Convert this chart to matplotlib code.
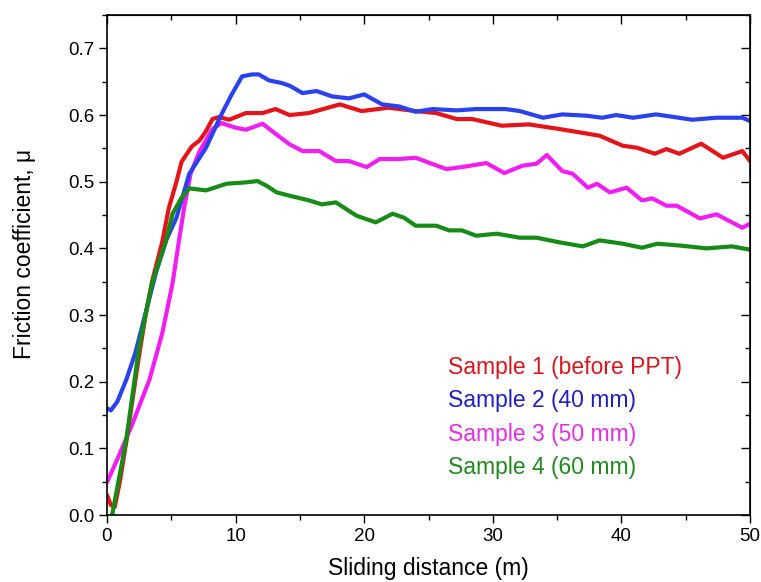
import matplotlib
matplotlib.use('Agg')
import matplotlib.pyplot as plt
from matplotlib.ticker import MultipleLocator

plt.rcParams['font.family'] = ['Liberation Sans', 'DejaVu Sans']

# Sample 1 (before PPT)
x1 = [0, 0.3, 0.6, 1.0, 1.5, 2.0, 2.5, 3.0, 3.5, 4.3, 4.8, 5.4, 5.8, 6.6, 7.2, 7.7, 8.2, 8.7,
      9.5, 10.8, 12.1, 13.1, 14.2, 15.7, 18.1, 19.8, 21.9, 24.0, 25.6, 27.2, 28.4, 30.7, 32.8,
      35.2, 38.3, 40.1, 41.2, 42.6, 43.5, 44.5, 46.2, 47.9, 49.4, 50]
y1 = [0.030, 0.015, 0.012, 0.050, 0.110, 0.175, 0.240, 0.300, 0.350, 0.410, 0.460, 0.500,
      0.530, 0.553, 0.562, 0.576, 0.594, 0.597, 0.593, 0.603, 0.603, 0.609, 0.600, 0.603,
      0.616, 0.606, 0.611, 0.606, 0.603, 0.594, 0.594, 0.584, 0.586, 0.579, 0.569, 0.554,
      0.551, 0.542, 0.549, 0.542, 0.557, 0.536, 0.546, 0.531]

# Sample 2 (40 mm)
x2 = [0, 0.3, 0.8, 1.5, 2.2, 3.0, 3.8, 4.6, 5.4, 6.4, 7.7, 8.9, 9.7, 10.5, 11.3, 11.8, 12.6,
      13.6, 14.2, 15.2, 16.3, 17.5, 18.8, 20.0, 21.4, 22.7, 24.0, 25.3, 27.2, 28.7, 31.0, 32.1,
      33.9, 35.4, 37.3, 38.5, 39.6, 40.9, 42.7, 45.5, 47.4, 49.4, 50]
y2 = [0.160, 0.157, 0.170, 0.203, 0.243, 0.303, 0.363, 0.412, 0.446, 0.512, 0.551, 0.601,
      0.631, 0.658, 0.661, 0.661, 0.652, 0.648, 0.644, 0.633, 0.636, 0.628, 0.625, 0.631,
      0.616, 0.613, 0.605, 0.609, 0.607, 0.609, 0.609, 0.606, 0.596, 0.601, 0.599, 0.596,
      0.600, 0.596, 0.601, 0.593, 0.596, 0.596, 0.591]

# Sample 3 (50 mm)
x3 = [0, 0.9, 1.9, 3.3, 4.3, 5.1, 5.6, 6.0, 6.5, 7.2, 8.2, 8.9, 10.0, 10.8, 12.1, 13.1, 14.2,
      15.2, 16.5, 17.8, 18.8, 20.2, 21.2, 22.7, 24.0, 25.1, 26.4, 27.6, 29.5, 30.9, 32.3, 33.4,
      34.2, 35.4, 36.2, 37.4, 38.1, 39.1, 40.4, 41.6, 42.4, 43.5, 44.3, 46.1, 47.4, 49.4, 50]
y3 = [0.049, 0.088, 0.133, 0.203, 0.273, 0.348, 0.412, 0.461, 0.512, 0.546, 0.579, 0.588,
      0.581, 0.578, 0.587, 0.572, 0.556, 0.546, 0.546, 0.531, 0.531, 0.522, 0.534, 0.534,
      0.536, 0.528, 0.519, 0.522, 0.528, 0.513, 0.524, 0.527, 0.540, 0.516, 0.512, 0.491,
      0.497, 0.484, 0.491, 0.472, 0.475, 0.464, 0.464, 0.445, 0.451, 0.431, 0.437]

# Sample 4 (60 mm)
x4 = [0.35, 1.5, 2.5, 3.5, 4.6, 5.1, 5.8, 6.4, 7.7, 9.3, 10.8, 11.7, 12.4, 13.2, 14.2, 15.7,
      16.7, 17.8, 19.4, 20.9, 22.2, 23.1, 24.0, 25.6, 26.6, 27.6, 28.7, 30.3, 32.1, 33.4, 35.2,
      37.0, 38.3, 40.1, 41.6, 42.8, 44.7, 46.6, 48.6, 50]
y4 = [-0.005, 0.113, 0.252, 0.348, 0.412, 0.452, 0.476, 0.490, 0.487, 0.497, 0.499, 0.501,
      0.494, 0.484, 0.479, 0.472, 0.466, 0.469, 0.449, 0.439, 0.452, 0.446, 0.434, 0.434,
      0.427, 0.427, 0.419, 0.422, 0.416, 0.416, 0.409, 0.403, 0.412, 0.407, 0.401, 0.407,
      0.404, 0.400, 0.403, 0.398]

labels = ['Sample 1 (before PPT)', 'Sample 2 (40 mm)', 'Sample 3 (50 mm)', 'Sample 4 (60 mm)']
line_colors = ['#e5141b', '#2a42ee', '#f01ef0', '#168c16']
text_colors = ['#d8161c', '#2020c0', '#e42ee4', '#1f8a1f']

fig = plt.figure(figsize=(7.61, 5.82), dpi=100)
ax = fig.add_axes([0.1406, 0.1151, 0.845, 0.859])

series = [(x1, y1), (x2, y2), (x3, y3), (x4, y4)]
# draw order: magenta, red, blue, green
for i in [2, 0, 1, 3]:
    xs, ys = series[i]
    ax.plot(xs, ys, color=line_colors[i], lw=3, solid_capstyle='round', solid_joinstyle='round')

ax.set_xlim(0, 50)
ax.set_ylim(0, 0.75)
ax.xaxis.set_major_locator(MultipleLocator(10))
ax.xaxis.set_minor_locator(MultipleLocator(5))
ax.yaxis.set_minor_locator(MultipleLocator(0.05))
ax.set_yticks([0, 0.1, 0.2, 0.3, 0.4, 0.5, 0.6, 0.7])
ax.yaxis.set_major_formatter(plt.FormatStrFormatter('%.1f'))
ax.tick_params(which='major', direction='out', length=6, width=1.0, labelsize=13.5, pad=3)
ax.tick_params(which='minor', direction='out', length=3.5, width=1.0)
for s in ax.spines.values():
    s.set_linewidth(1.2)

# mirrored ticks on top and right, pointing inward
top = ax.secondary_xaxis('top')
top.xaxis.set_major_locator(MultipleLocator(10))
top.xaxis.set_minor_locator(MultipleLocator(5))
top.tick_params(which='major', direction='in', length=6.5, width=1.0, labeltop=False)
top.tick_params(which='minor', direction='in', length=3.5, width=1.0)
right = ax.secondary_yaxis('right')
right.yaxis.set_major_locator(MultipleLocator(0.1))
right.yaxis.set_minor_locator(MultipleLocator(0.05))
right.tick_params(which='major', direction='in', length=6.5, width=1.0, labelright=False)
right.tick_params(which='minor', direction='in', length=3.5, width=1.0)

ax.set_xlabel('Sliding distance (m)', fontsize=16.5, labelpad=9)
ax.set_ylabel('Friction coefficient, μ', fontsize=16.5)
ax.yaxis.set_label_coords(-0.11, 0.522)

ys_text = [0.222, 0.172, 0.121, 0.071]
for lab, c, yt in zip(labels, text_colors, ys_text):
    ax.text(26.5, yt, lab, color=c, fontsize=16.5, va='center', ha='left')

fig.savefig('out.png', dpi=100)
